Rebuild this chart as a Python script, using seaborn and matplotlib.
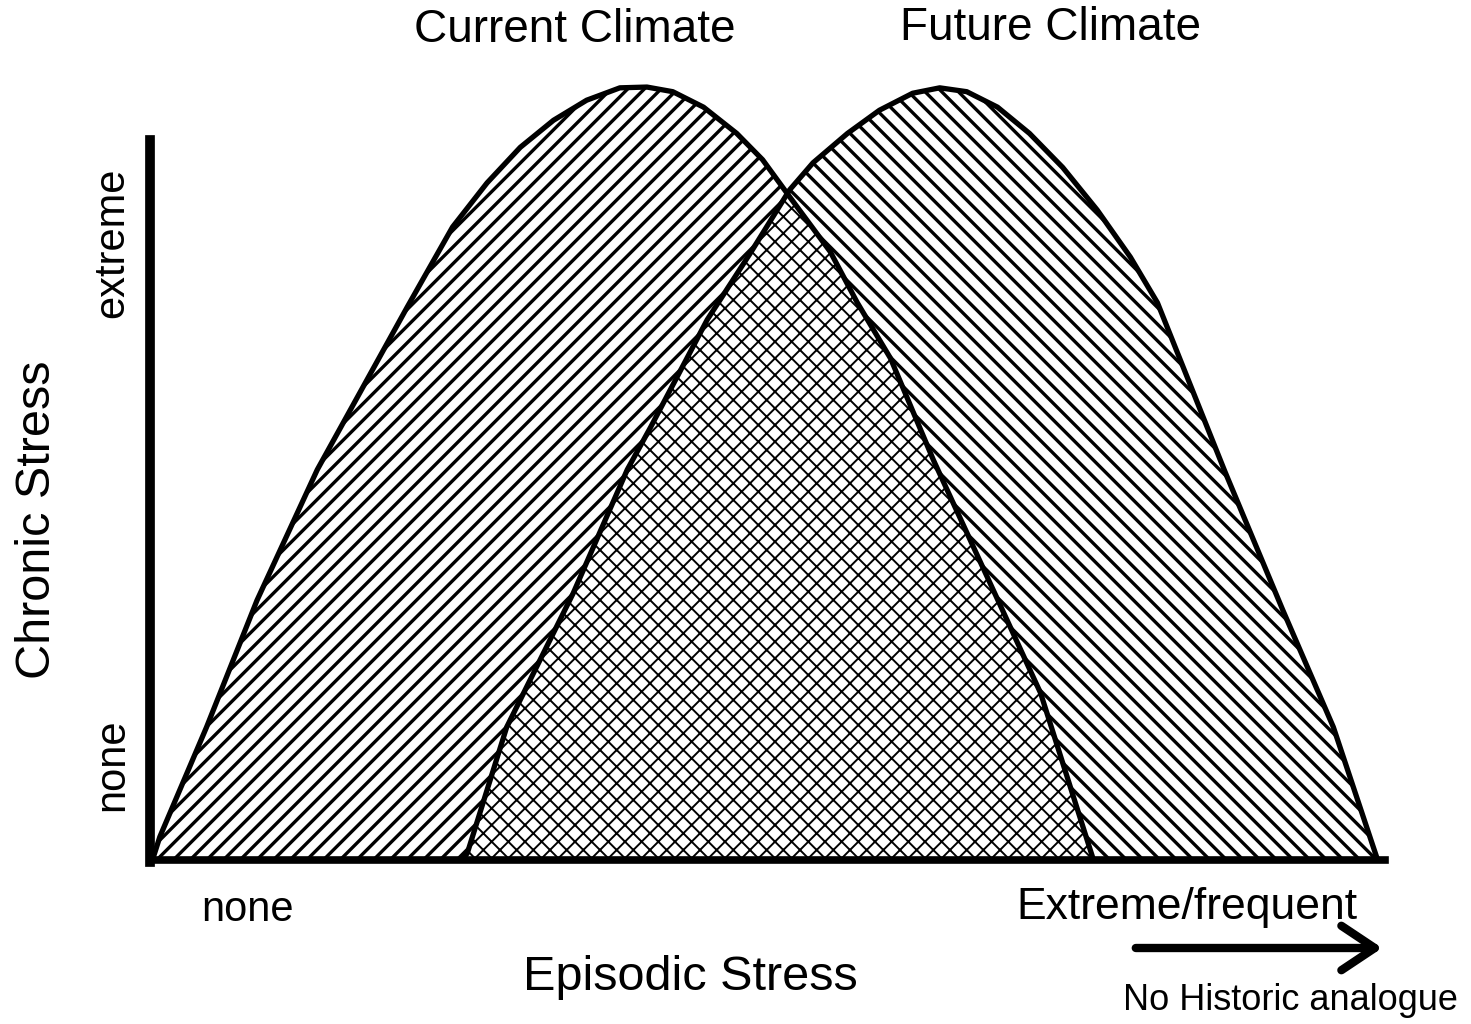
import numpy as np
import matplotlib
matplotlib.use("Agg")
import matplotlib.pyplot as plt
import seaborn as sns

# --- data (x: episodic stress 0-10, y: chronic stress 0-10) ---
current_x = [0.02, 0.08, 0.46, 0.87, 1.36, 2.09, 2.20, 2.46, 2.74, 3.01, 3.28, 3.55,
             3.82, 4.04, 4.25, 4.50, 4.77, 4.98, 5.20, 5.53, 5.75, 6.02, 6.37, 6.83,
             7.24, 7.67]
current_y = [0.0, 0.30, 1.72, 3.36, 5.05, 7.15, 7.46, 8.19, 8.76, 9.22, 9.57, 9.83,
             9.99, 10.0, 9.94, 9.74, 9.40, 9.06, 8.58, 7.87, 7.21, 6.49, 5.17, 3.58,
             2.16, 0.0]

future_x = [2.54, 2.58, 2.90, 3.44, 3.88, 4.07, 4.53, 4.88, 5.20, 5.39, 5.67, 5.93,
            6.20, 6.42, 6.64, 6.89, 7.15, 7.42, 7.70, 7.97, 8.19, 8.74, 9.21, 9.62,
            9.98]
future_y = [0.0, 0.09, 1.72, 3.45, 5.05, 5.60, 6.99, 7.85, 8.67, 9.02, 9.40, 9.70,
            9.92, 9.99, 9.94, 9.74, 9.40, 8.96, 8.41, 7.80, 7.21, 5.02, 3.23, 1.72,
            0.0]

curve_labels = ["Current Climate", "Future Climate"]
y_tick_labels = ["none", "extreme"]
x_tick_labels = ["none", "Extreme/frequent"]

# --- figure ---
sns.set_style("white")
plt.rcParams['font.family'] = ['Liberation Sans', 'DejaVu Sans']
plt.rcParams['text.color'] = 'black'
plt.rcParams['hatch.linewidth'] = 2.4

fig = plt.figure(figsize=(14.71, 10.24), dpi=100)
ax = fig.add_axes([150 / 1471, 1 - 860 / 1024, 1235 / 1471, 800 / 1024])
ax.set_xlim(0, 10.04)
ax.set_ylim(0, 10.35)

# hatched areas
cur_patch = ax.fill(current_x, current_y, facecolor='white', edgecolor='black',
                    linewidth=0, hatch='//', zorder=1)[0]
fut_patch = ax.fill(future_x, future_y, facecolor='white', edgecolor='black',
                    linewidth=0, hatch='\\\\', zorder=1.1)[0]

# overlap: cross hatch clipped to the current-climate area
with plt.rc_context({'hatch.linewidth': 1.4}):
    overlap = ax.fill(future_x, future_y, facecolor='white', edgecolor='black',
                      linewidth=0, hatch='xx', zorder=1.2)[0]
if hasattr(overlap, 'set_hatch_linewidth'):
    overlap.set_hatch_linewidth(1.4)
overlap.set_clip_path(cur_patch)

# outlines
for xs, ys in [(current_x, current_y), (future_x, future_y)]:
    sns.lineplot(x=xs, y=ys, sort=False, color='black', linewidth=3.8, ax=ax,
                 zorder=3, clip_on=False, solid_joinstyle='round',
                 solid_capstyle='round')

# axes look
sns.despine(ax=ax, top=True, right=True)
for side in ['left', 'bottom']:
    ax.spines[side].set_color('black')
    ax.spines[side].set_zorder(5)
ax.spines['left'].set_linewidth(7)
ax.spines['bottom'].set_linewidth(5.5)
ax.spines['left'].set_bounds(-0.03, 9.31)
ax.set_xticks([])
ax.set_yticks([])

# curve titles
fig.text(575 / 1471, 1 - 30 / 1024, curve_labels[0], fontsize=33, ha='center', va='center')
fig.text(1050 / 1471, 1 - 28 / 1024, curve_labels[1], fontsize=33, ha='center', va='center')

# y axis texts
fig.text(38 / 1471, 1 - 520 / 1024, "Chronic Stress", fontsize=35, rotation=90,
         ha='center', va='center')
fig.text(112 / 1471, 1 - 765 / 1024, y_tick_labels[0], fontsize=30, rotation=90,
         ha='center', va='center')
fig.text(112 / 1471, 1 - 243 / 1024, y_tick_labels[1], fontsize=30, rotation=90,
         ha='center', va='center')

# x axis texts
fig.text(248 / 1471, 1 - 910 / 1024, x_tick_labels[0], fontsize=30, ha='center', va='center')
fig.text(1187 / 1471, 1 - 908 / 1024, x_tick_labels[1], fontsize=32, ha='center', va='center')
fig.text(690 / 1471, 1 - 978 / 1024, "Episodic Stress", fontsize=35, ha='center', va='center')
fig.text(1290 / 1471, 1 - 1000 / 1024, "No Historic analogue", fontsize=26,
         ha='center', va='center')

# arrow
fig.add_artist(matplotlib.patches.FancyArrowPatch(
    (1133 / 1471, 1 - 948 / 1024), (1385 / 1471, 1 - 948 / 1024),
    transform=fig.transFigure, arrowstyle='->,head_length=12,head_width=8',
    mutation_scale=2, linewidth=6, color='black'))

fig.savefig('out.png', dpi=100)
